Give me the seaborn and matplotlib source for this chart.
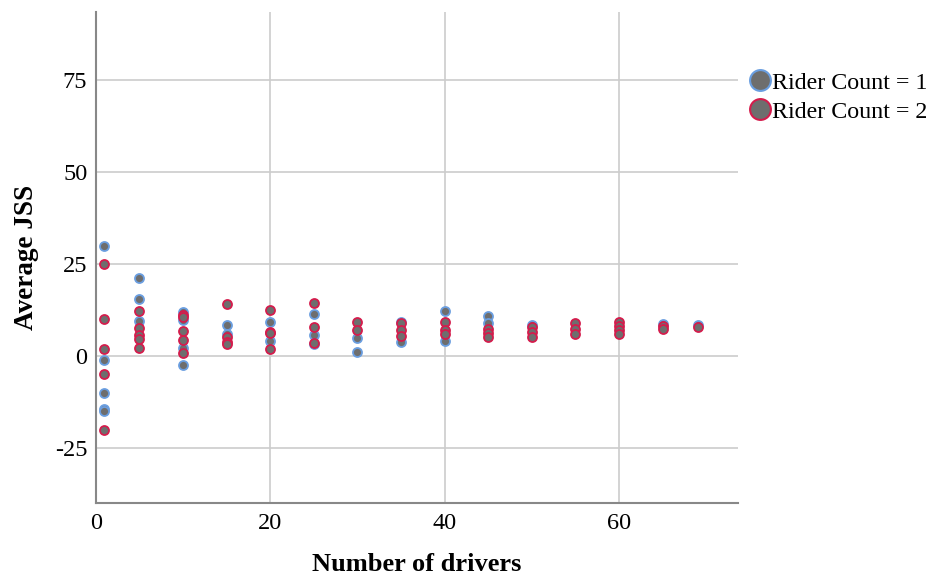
import matplotlib
matplotlib.use("Agg")
import matplotlib.pyplot as plt
import seaborn as sns
import pandas as pd
from matplotlib.lines import Line2D

# Data
r1_x = [1, 1, 1, 1, 1,
        5, 5, 5,
        10, 10, 10, 10,
        15, 15,
        20, 20,
        25, 25, 25,
        30, 30,
        35, 35,
        40, 40,
        45, 45,
        50,
        65,
        69]
r1_y = [30, -1, -10, -14.5, -15,
        21.1, 15.6, 9.6,
        12, 9.8, 2.1, -2.4,
        8.4, 6,
        9.1, 4.2,
        11.4, 5.7, 3.2,
        5, 1.2,
        9.1, 3.9,
        12.2, 4.2,
        10.9, 8.9,
        8.4,
        8.7,
        8.4]
r2_x = [1, 1, 1, 1, 1,
        5, 5, 5, 5, 5,
        10, 10, 10, 10, 10,
        15, 15, 15, 15,
        20, 20, 20, 20,
        25, 25, 25,
        30, 30,
        35, 35, 35,
        40, 40, 40,
        45, 45, 45,
        50, 50, 50,
        55, 55, 55,
        60, 60, 60, 60,
        65, 65,
        69]
r2_y = [25, 10, 2, -5, -20,
        12.3, 7.7, 5.7, 4.7, 2.1,
        11, 10.5, 6.7, 4.3, 0.7,
        14.1, 5.1, 3.9, 3.3,
        12.5, 6.6, 6.2, 1.9,
        14.5, 8, 3.6,
        9.1, 7.1,
        8.9, 7.1, 5.4,
        9.1, 7.1, 6,
        7.2, 6.3, 5.2,
        7.8, 6.6, 5.2,
        8.9, 7.2, 6.1,
        9.1, 8.2, 7.1, 6.1,
        8.2, 7.2,
        8]
series_names = ["Rider Count = 1", "Rider Count = 2"]
x_ticks = [0, 20, 40, 60]
y_ticks = [-25, 0, 25, 50, 75]

fill_color = "#6e6e6e"
edge_colors = ["#6a9ee0", "#d41c4c"]

sns.set_style("white")
plt.rcParams["font.family"] = ["Liberation Serif", "DejaVu Serif"]
plt.rcParams["axes.unicode_minus"] = False
plt.rcParams["text.color"] = "black"
plt.rcParams["axes.labelcolor"] = "black"

fig = plt.figure(figsize=(9.38, 5.81), dpi=100)
ax = fig.add_axes([0.1020, 0.1337, 0.6845, 0.8456])

df1 = pd.DataFrame({"x": r1_x, "y": r1_y})
df2 = pd.DataFrame({"x": r2_x, "y": r2_y})
sns.scatterplot(data=df1, x="x", y="y", ax=ax, color=fill_color,
                edgecolor=edge_colors[0], linewidth=1.3, s=42, zorder=3)
sns.scatterplot(data=df2, x="x", y="y", ax=ax, color=fill_color,
                edgecolor=edge_colors[1], linewidth=1.3, s=42, zorder=4)

ax.set_xlim(0, 73.6)
ax.set_ylim(-40, 93.4)
ax.set_xticks(x_ticks)
ax.set_yticks(y_ticks)
ax.grid(True, color="#cccccc", linewidth=1.2, zorder=0)
ax.set_axisbelow(True)
for s in ["top", "right"]:
    ax.spines[s].set_visible(False)
for s in ["left", "bottom"]:
    ax.spines[s].set_color("#888888")
    ax.spines[s].set_linewidth(1.5)
ax.tick_params(axis="both", length=0, labelsize=17.5, colors="black")
ax.tick_params(axis="y", pad=6)
ax.tick_params(axis="x", pad=7)
ax.set_xlabel("Number of drivers", fontsize=19, fontweight="bold", color="black")
ax.set_ylabel("Average JSS", fontsize=19.5, fontweight="bold", color="black")
ax.xaxis.set_label_coords(0.5, -0.102)
ax.yaxis.set_label_coords(-0.0877, 0.5)

handles = [Line2D([0], [0], marker="o", linestyle="none", markersize=15,
                  markerfacecolor=fill_color, markeredgecolor=ec, markeredgewidth=1.5)
           for ec in edge_colors]
fig.legend(handles, series_names, loc="upper left", bbox_to_anchor=(0.797, 0.876),
           frameon=False, fontsize=17.3, handletextpad=0.0, labelspacing=0.3,
           borderpad=0, borderaxespad=0, handlelength=1.0, labelcolor="black")

fig.savefig("out.png", dpi=100)
